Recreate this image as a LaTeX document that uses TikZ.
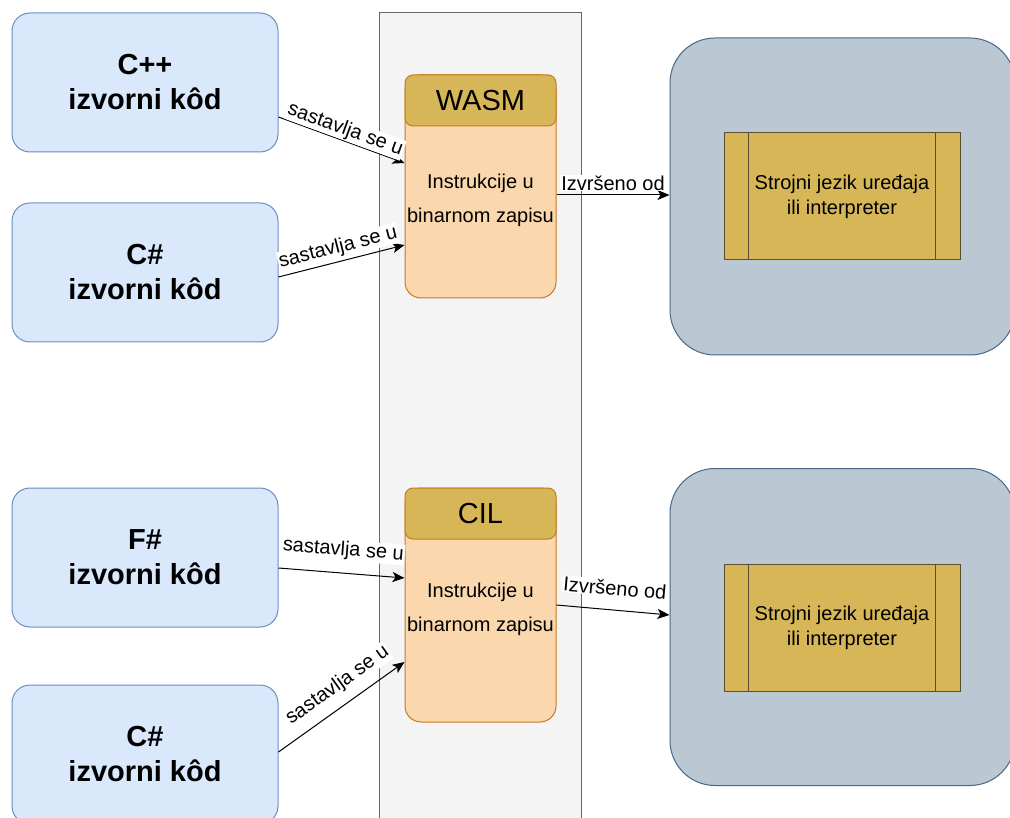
\documentclass[tikz,border=0pt]{standalone}
\usepackage{fontspec}
\setmainfont{Liberation Sans}
\usetikzlibrary{positioning,arrows.meta}
\definecolor{srcfill}{HTML}{DAE8FC}
\definecolor{srcline}{HTML}{6C8EBF}
\definecolor{lanefill}{HTML}{F4F4F4}
\definecolor{laneline}{HTML}{666666}
\definecolor{bodyfill}{HTML}{FAD7AC}
\definecolor{bodyline}{HTML}{C9791B}
\definecolor{headfill}{HTML}{D6B656}
\definecolor{rtfill}{HTML}{BAC8D3}
\definecolor{rtline}{HTML}{4A6785}
\definecolor{procline}{HTML}{5B4E2C}
\tikzset{
  srcbox/.style={draw=srcline, fill=srcfill, line width=1pt, rounded corners=18pt,
    minimum width=266pt, minimum height=139pt, align=center,
    font=\fontsize{29}{35}\selectfont\bfseries},
  body/.style={draw=bodyline, fill=bodyfill, line width=1pt, rounded corners=16pt,
    minimum width=151pt},
  head/.style={draw=bodyline, fill=headfill, line width=1pt, rounded corners=8pt,
    minimum width=151pt, minimum height=51pt, font=\fontsize{29}{35}\selectfont},
  bodytext/.style={align=center, font=\fontsize{20}{34}\selectfont},
  rtbox/.style={draw=rtline, fill=rtfill, line width=1pt, rounded corners=45pt,
    minimum width=345pt, minimum height=317pt},
  procbox/.style={draw=procline, fill=headfill, line width=1pt, minimum width=236pt,
    minimum height=127pt, align=center, font=\fontsize{20}{25}\selectfont},
  conn/.style={-{Stealth[length=12pt,width=10pt,inset=3pt]}, line width=1pt},
  lbl/.style={fill=white, inner sep=1pt, font=\fontsize{20}{24}\selectfont}
}
\begin{document}
\begin{tikzpicture}[x=1pt,y=-1pt]
\useasboundingbox (0,0) rectangle (1010,818);
\fill[white] (0,0) rectangle (1010,818);
\draw[draw=laneline, fill=lanefill, line width=1pt] (379,13) rectangle (581,840);

\node[srcbox] (cpp) at (145,82.5) {C++\\izvorni kôd};
\node[srcbox] (csA) at (145,272.5) {C\#\\izvorni kôd};
\node[srcbox] (fs) at (145,557.5) {F\#\\izvorni kôd};
\node[srcbox] (csB) at (145,754.5) {C\#\\izvorni kôd};

\node[body, minimum height=223pt] (wasm) at (480.5,186.5) {};
\node[head, anchor=north] (wasmhead) at (wasm.north) {WASM};
\node[bodytext] (wasmtext) at (480.5,200) {Instrukcije u\\binarnom zapisu};
\node[body, minimum height=234pt] (cil) at (480.5,605) {};
\node[head, anchor=north] (cilhead) at (cil.north) {CIL};
\node[bodytext] (ciltext) at (480.5,609) {Instrukcije u\\binarnom zapisu};

\node[rtbox] (rtA) at (842.5,196.5) {};
\node[procbox] (procA) at (842,196.5) {Strojni jezik uređaja\\ili interpreter};
\draw[procline, line width=1pt] ([xshift=25pt]procA.north west) -- ([xshift=25pt]procA.south west);
\draw[procline, line width=1pt] ([xshift=-25pt]procA.north east) -- ([xshift=-25pt]procA.south east);
\node[rtbox] (rtB) at (842.5,627) {};
\node[procbox] (procB) at (842,627.5) {Strojni jezik uređaja\\ili interpreter};
\draw[procline, line width=1pt] ([xshift=25pt]procB.north west) -- ([xshift=25pt]procB.south west);
\draw[procline, line width=1pt] ([xshift=-25pt]procB.north east) -- ([xshift=-25pt]procB.south east);

\draw[conn] ([yshift=-34.5pt]cpp.east) -- node[lbl, sloped, above=0pt] {sastavlja se u} ([yshift=23.5pt]wasm.west);
\draw[conn] ([yshift=-4.5pt]csA.east) -- node[lbl, sloped, above=3pt] {sastavlja se u} ([yshift=-58.5pt]wasm.west);
\draw[conn] ([yshift=-10.5pt]fs.east) -- node[lbl, sloped, above=12pt] {sastavlja se u} ([yshift=27pt]cil.west);
\draw[conn] ([yshift=2.5pt]csB.east) -- node[lbl, sloped, above=9pt, pos=0.56] {sastavlja se u} ([yshift=-57pt]cil.west);
\draw[conn] ([yshift=-8.5pt]wasm.east) -- node[lbl, sloped, above=3pt] {Izvršeno od} ([yshift=1.5pt]rtA.west);
\draw[conn] (cil.east) -- node[lbl, sloped, above=13pt] {Izvršeno od} ([yshift=12pt]rtB.west);
\end{tikzpicture}
\end{document}
